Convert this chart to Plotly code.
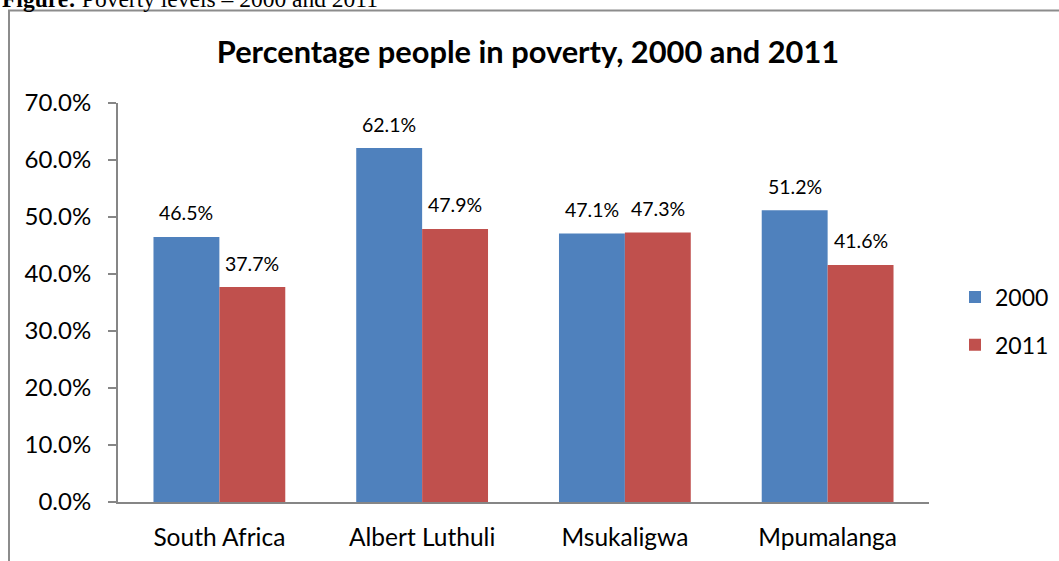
import plotly.graph_objects as go

categories = ["South Africa", "Albert Luthuli", "Msukaligwa", "Mpumalanga"]
series_names = ["2000", "2011"]
values_2000 = [46.5, 62.1, 47.1, 51.2]
values_2011 = [37.7, 47.9, 47.3, 41.6]
y_ticks = [0, 10, 20, 30, 40, 50, 60, 70]
y_tick_labels = ["0.0%", "10.0%", "20.0%", "30.0%", "40.0%", "50.0%", "60.0%", "70.0%"]
title_text = "Percentage people in poverty, 2000 and 2011"
heading_text = "<b>Figure:</b> Poverty levels \u2013 2000 and 2011"

BLUE = "#4F81BD"
RED = "#C0504D"
AXIS = "#868686"
FONT = "Lato"

W, H = 1059, 561
L, R, T, B = 118, 130, 103, 59
plot_w = W - L - R
plot_h = H - T - B

fig = go.Figure()
fig.add_trace(go.Bar(x=categories, y=values_2000, name=series_names[0],
                     marker=dict(color=BLUE, line=dict(width=0)), legendgroup="a"))
fig.add_trace(go.Bar(x=categories, y=values_2011, name=series_names[1],
                     marker=dict(color=RED, line=dict(width=0)), legendgroup="b"))

bar_px = plot_w / len(categories) * (1 - 0.35) / 2
annotations = []
for vals, shift in ((values_2000, -bar_px / 2), (values_2011, bar_px / 2)):
    for c, v in zip(categories, vals):
        annotations.append(dict(x=c, y=v, xref="x", yref="y", text=f"{v:.1f}%",
                                showarrow=False, xshift=shift, yshift=24,
                                yanchor="middle", xanchor="center",
                                font=dict(family=FONT, size=19.5, color="#000")))

# heading of the document, cut off at top (as in the reference)
annotations.append(dict(x=(0 - L) / plot_w, y=(H - B + 1) / plot_h, xref="paper", yref="paper",
                        text=heading_text, showarrow=False, xanchor="left", yanchor="middle",
                        font=dict(family="Liberation Serif", size=23.5, color="#000")))

fig.update_layout(
    width=W, height=H,
    margin=dict(l=L, r=R, t=T, b=B, pad=0, autoexpand=False),
    paper_bgcolor="white", plot_bgcolor="white",
    barmode="group", bargap=0.35, bargroupgap=0,
    title=dict(text=f"<b>{title_text}</b>", x=528 / W, xanchor="center",
               y=1 - 52.5 / H, yanchor="middle",
               font=dict(family=FONT, size=30.8, color="#000")),
    xaxis=dict(showline=True, linecolor=AXIS, linewidth=2, ticks="",
               tickfont=dict(family=FONT, size=24.5, color="#000"),
               ticklabelstandoff=13, showgrid=False, zeroline=False, automargin=False),
    yaxis=dict(range=[0, 70], tickvals=y_ticks, ticktext=y_tick_labels,
               showline=True, linecolor=AXIS, linewidth=2, ticks="outside",
               ticklen=8, tickcolor=AXIS, tickwidth=2,
               tickfont=dict(family=FONT, size=24, color="#000"),
               ticklabelstandoff=12, showgrid=False, zeroline=False, automargin=False),
    legend=dict(xref="container", yref="container",
                x=955 / W, y=1 - 321 / H, xanchor="left", yanchor="middle",
                font=dict(family=FONT, size=23, color="#000"),
                traceorder="grouped", tracegroupgap=15, bgcolor="rgba(0,0,0,0)"),
    annotations=annotations,
    shapes=[dict(type="rect", xref="paper", yref="paper",
                 x0=(9 - L) / plot_w, x1=(W + 20 - L) / plot_w,
                 y0=(H - B - (H + 20)) / plot_h, y1=(H - B - 10.5) / plot_h,
                 line=dict(color="#8c8c8c", width=2), layer="below")],
)

fig.write_html(
    "out.html",
    config={"displayModeBar": False},
    post_script="document.body.style.margin='0';",
)
